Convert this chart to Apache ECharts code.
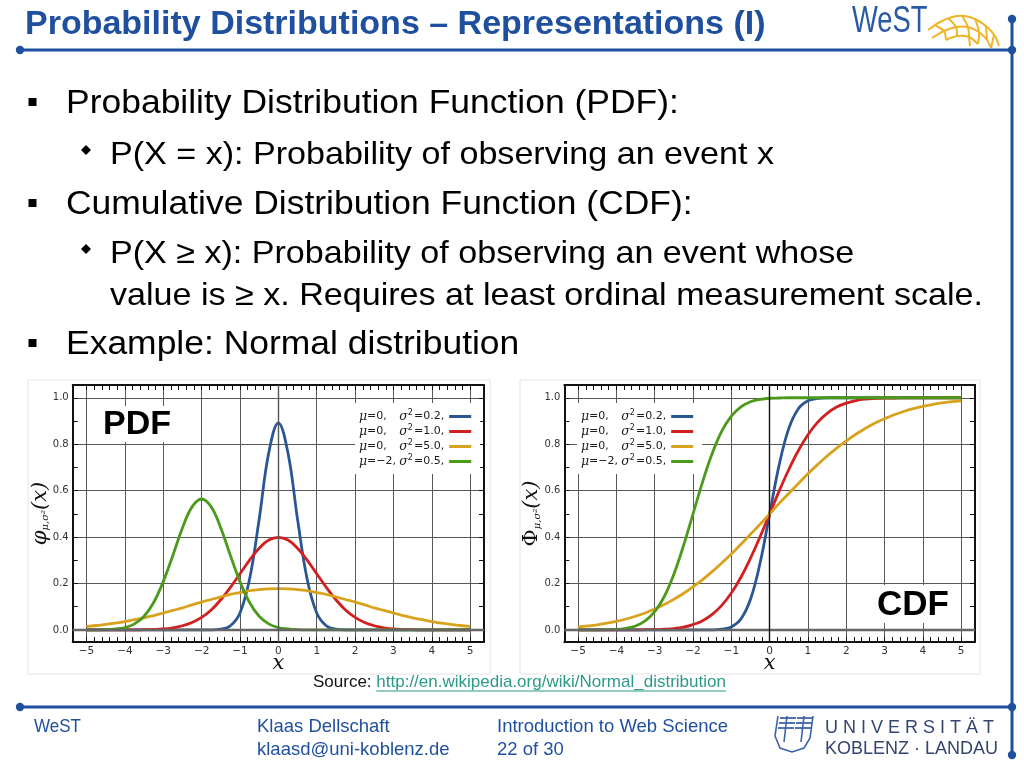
<!DOCTYPE html>
<html><head><meta charset="utf-8">
<script src="https://cdn.jsdelivr.net/npm/echarts@6/dist/echarts.min.js"></script>
<style>html,body{margin:0;padding:0;background:#fff;}#c{width:1024px;height:768px;}</style>
</head><body><div id="c"></div>
<script>
// ---------- data ----------
const xValues = [-5,-4.75,-4.5,-4.25,-4,-3.75,-3.5,-3.25,-3,-2.75,-2.5,-2.25,-2,-1.75,-1.5,-1.25,-1,-0.75,-0.5,-0.25,0,0.25,0.5,0.75,1,1.25,1.5,1.75,2,2.25,2.5,2.75,3,3.25,3.5,3.75,4,4.25,4.5,4.75,5];
const seriesNames = ['μ=0, σ²=0.2','μ=0, σ²=1.0','μ=0, σ²=5.0','μ=−2, σ²=0.5'];
const legendMu = ['0','0','0','−2'];
const legendVar = ['0.2','1.0','5.0','0.5'];
const seriesColors = ['#2a5694','#d21f1f','#d9a21c','#4c9a1b'];

const pdfVar02 = [0,0,0,0,0,0,0,0,0,0,0,0,0,0,0.003,0.018,0.073,0.219,0.477,0.763,0.892,0.763,0.477,0.219,0.073,0.018,0.003,0,0,0,0,0,0,0,0,0,0,0,0,0,0];
const pdfVar1 = [0,0,0,0,0,0,0.001,0.002,0.004,0.009,0.018,0.032,0.054,0.086,0.130,0.183,0.242,0.301,0.352,0.387,0.399,0.387,0.352,0.301,0.242,0.183,0.130,0.086,0.054,0.032,0.018,0.009,0.004,0.002,0.001,0,0,0,0,0,0];
const pdfVar5 = [0.015,0.019,0.024,0.029,0.036,0.044,0.052,0.062,0.073,0.084,0.095,0.108,0.120,0.131,0.142,0.153,0.161,0.169,0.174,0.177,0.178,0.177,0.174,0.169,0.161,0.153,0.142,0.131,0.120,0.108,0.095,0.084,0.073,0.062,0.052,0.044,0.036,0.029,0.024,0.019,0.015];
const pdfMuM2 = [0,0,0.001,0.004,0.010,0.026,0.059,0.118,0.208,0.321,0.439,0.530,0.564,0.530,0.439,0.321,0.208,0.118,0.059,0.026,0.010,0.004,0.001,0,0,0,0,0,0,0,0,0,0,0,0,0,0,0,0,0,0];

const cdfVar02 = [0,0,0,0,0,0,0,0,0,0,0,0,0,0,0,0.003,0.013,0.047,0.132,0.288,0.5,0.712,0.868,0.953,0.987,0.997,1,1,1,1,1,1,1,1,1,1,1,1,1,1,1];
const cdfVar1 = [0,0,0,0,0,0,0,0.001,0.001,0.003,0.006,0.012,0.023,0.040,0.067,0.106,0.159,0.227,0.309,0.401,0.5,0.599,0.691,0.773,0.841,0.894,0.933,0.960,0.977,0.988,0.994,0.997,0.999,0.999,1,1,1,1,1,1,1];
const cdfVar5 = [0.013,0.017,0.022,0.029,0.037,0.047,0.059,0.073,0.090,0.109,0.132,0.157,0.186,0.217,0.251,0.288,0.327,0.369,0.412,0.455,0.5,0.545,0.588,0.631,0.673,0.712,0.749,0.783,0.814,0.843,0.868,0.891,0.910,0.927,0.941,0.953,0.963,0.971,0.978,0.983,0.987];
const cdfMuM2 = [0,0,0,0.001,0.002,0.007,0.017,0.039,0.079,0.144,0.240,0.362,0.5,0.638,0.760,0.856,0.921,0.961,0.983,0.993,0.998,0.999,1,1,1,1,1,1,1,1,1,1,1,1,1,1,1,1,1,1,1];

const xTickLabels = [-5,-4,-3,-2,-1,0,1,2,3,4,5];
const yTickLabels = [0,0.2,0.4,0.6,0.8,1.0];
const xMinorTicks = []; for (let k = -25; k <= 25; k++) xMinorTicks.push(k / 5);
const yMinorTicks = []; for (let k = 0; k <= 10; k++) yMinorTicks.push(k / 10);

// ---------- layout ----------
const X_MIN = -5.36, X_MAX = 5.36, Y_MIN = -0.052, Y_MAX = 1.055;
const SANS = '"Liberation Sans", Arial, Helvetica, sans-serif';
const BLUE = '#1f4f9f';
const GRIDC = '#585858';
const pdfRect = {left: 72.7, top: 385, width: 411.3, height: 257};
const cdfRect = {left: 564.3, top: 385, width: 410.7, height: 257};

const chart = echarts.init(document.getElementById('c'), null, {renderer: 'canvas'});
const fmtMinus = v => (v < 0 ? '−' + Math.abs(v) : String(v));

function gridOf(r) { return Object.assign({}, r, {containLabel: false, outerBoundsMode: 'none'}); }

function xAxes(gMain, gOver) {
  const frame = {show: true, onZero: false, lineStyle: {color: '#111', width: 2}};
  return [
    {type: 'value', gridIndex: gMain, position: 'bottom', min: X_MIN, max: X_MAX,
     axisLine: frame, axisTick: {show: false, customValues: xTickLabels},
     axisLabel: {customValues: xTickLabels, formatter: fmtMinus, fontSize: 10.5, color: '#333', fontFamily: 'DejaVu Sans', margin: 4},
     splitLine: {show: true, lineStyle: {color: GRIDC, width: 1}},
     name: 'x', nameLocation: 'middle', nameGap: 11, nameMoveOverlap: false,
     nameTextStyle: {fontFamily: 'DejaVu Serif', fontStyle: 'italic', fontSize: 21, color: '#111'}},
    {type: 'value', gridIndex: gMain, position: 'top', min: X_MIN, max: X_MAX,
     axisLine: frame, axisTick: {show: true, inside: true, length: 5, customValues: xMinorTicks, lineStyle: {color: '#111', width: 1}},
     axisLabel: {show: false}, splitLine: {show: false}},
    {type: 'value', gridIndex: gOver, position: 'bottom', min: X_MIN, max: X_MAX,
     axisLine: {show: false, onZero: false}, axisTick: {show: true, inside: true, length: 5, customValues: xMinorTicks, lineStyle: {color: '#111', width: 1}},
     axisLabel: {show: false}, splitLine: {show: false}}
  ];
}
function yAxes(gMain, gOver, nameText) {
  const frame = {show: true, onZero: false, lineStyle: {color: '#111', width: 2}};
  return [
    {type: 'value', gridIndex: gMain, position: 'left', min: Y_MIN, max: Y_MAX,
     axisLine: frame, axisTick: {show: false, customValues: yTickLabels},
     axisLabel: {customValues: yTickLabels, formatter: v => v.toFixed(1), fontSize: 10, color: '#333', fontFamily: 'DejaVu Sans', margin: 4},
     splitLine: {show: true, lineStyle: {color: GRIDC, width: 1}},
     name: nameText, nameLocation: 'middle', nameRotate: 90, nameGap: 22, nameMoveOverlap: false,
     nameTextStyle: {color: '#111', rich: {
       g: {fontFamily: 'DejaVu Serif', fontStyle: 'italic', fontSize: 21, color: '#111'},
       G: {fontFamily: 'DejaVu Serif', fontSize: 21, color: '#111'},
       s: {fontFamily: 'DejaVu Serif', fontStyle: 'italic', fontSize: 10, color: '#111', verticalAlign: 'bottom', padding: [8, 0, 0, 0]}
     }}},
    {type: 'value', gridIndex: gMain, position: 'right', min: Y_MIN, max: Y_MAX,
     axisLine: frame, axisTick: {show: true, inside: true, length: 5, customValues: yMinorTicks, lineStyle: {color: '#111', width: 1}},
     axisLabel: {show: false}, splitLine: {show: false}},
    {type: 'value', gridIndex: gOver, position: 'left', min: Y_MIN, max: Y_MAX,
     axisLine: {show: false, onZero: false}, axisTick: {show: true, inside: true, length: 5, customValues: yMinorTicks, lineStyle: {color: '#111', width: 1}},
     axisLabel: {show: false}, splitLine: {show: false}}
  ];
}

function curve(arr, i, axisIdx) {
  return {type: 'line', name: seriesNames[i], xAxisIndex: axisIdx, yAxisIndex: axisIdx,
    data: xValues.map((x, k) => [x, arr[k]]), smooth: 0.4, symbol: 'none', showSymbol: false,
    lineStyle: {color: seriesColors[i], width: 2.8}, itemStyle: {color: seriesColors[i]},
    silent: true, z: 3};
}
function zeroLines(axisIdx, vColor, vWidth) {
  return {type: 'line', name: '_zero' + axisIdx, xAxisIndex: axisIdx, yAxisIndex: axisIdx,
    data: [[0, 0]], symbol: 'none', lineStyle: {opacity: 0}, silent: true, z: 2,
    markLine: {silent: true, symbol: ['none', 'none'], label: {show: false}, animation: false,
      data: [{yAxis: 0, lineStyle: {color: '#666', width: 2.4, type: 'solid'}},
             {xAxis: 0, lineStyle: {color: vColor, width: vWidth, type: 'solid'}}]}};
}

function legendAt(left) {
  return {left: left, top: 403, orient: 'vertical', align: 'right', data: seriesNames,
    icon: 'rect', itemWidth: 22, itemHeight: 3, itemGap: 1, selectedMode: false,
    backgroundColor: '#fff', padding: [6, 9, 6, 4],
    formatter: name => {
      const i = seriesNames.indexOf(name);
      return '{g|μ}{t|=}{n|' + legendMu[i] + ',}{g|σ}{p|2}{t|=' + legendVar[i] + ',}';
    },
    textStyle: {color: '#1a1a1a', align: 'left', rich: {
      g: {fontFamily: 'DejaVu Serif', fontStyle: 'italic', fontSize: 12.5, color: '#1a1a1a', lineHeight: 15, align: 'left'},
      t: {fontFamily: 'DejaVu Sans', fontSize: 11, color: '#1a1a1a', lineHeight: 15, align: 'left'},
      n: {fontFamily: 'DejaVu Sans', fontSize: 11, color: '#1a1a1a', width: 23, lineHeight: 15, align: 'left'},
      p: {fontFamily: 'DejaVu Sans', fontSize: 8, color: '#1a1a1a', verticalAlign: 'top', lineHeight: 15, padding: [0, 1, 6, 0], align: 'left'}
    }}};
}

// ---------- slide decorations ----------
const mctx = document.createElement('canvas').getContext('2d');
function textW(str, px, weight) { mctx.font = (weight || 'normal') + ' ' + px + 'px ' + SANS; return mctx.measureText(str).width; }
function T(text, x, y, size, fill, opts) {
  opts = opts || {};
  return {type: 'text', x: x, y: y, z: 20, silent: true, scaleX: opts.scaleX || 1,
    style: {text: text, fill: fill, fontSize: size, fontFamily: opts.family || SANS,
      fontWeight: opts.weight || 'normal', fontStyle: opts.style || 'normal',
      textAlign: opts.align || 'left', textVerticalAlign: 'middle', align: opts.align || 'left', verticalAlign: 'middle'}};
}
const L = (x1, y1, x2, y2, c, w) => ({type: 'line', z: 20, silent: true, shape: {x1, y1, x2, y2}, style: {stroke: c, lineWidth: w}});
const C = (cx, cy, r, c) => ({type: 'circle', z: 20, silent: true, shape: {cx, cy, r}, style: {fill: c}});

const g = [];
// frame lines
g.push(L(20, 50, 1012, 50, BLUE, 3), L(1012, 19, 1012, 755, BLUE, 3), L(20, 707, 1012, 707, BLUE, 3));
[[20, 50], [1012, 19], [1012, 50], [20, 707], [1012, 707], [1012, 755]].forEach(p => g.push(C(p[0], p[1], 4.2, BLUE)));
// title
g.push(T('Probability Distributions – Representations (I)', 25, 25, 34, BLUE, {weight: 'bold'}));
// WeST logo
g.push(T('WeST', 852, 22, 36, '#2a5aa6', {scaleX: 0.76}));
const Y = '#f0b526';
const net = [
  [[928,30],[940,22],[952,17],[965,16],[977,20],[987,27],[995,36],[999,46]],
  [[932,38],[944,31],[956,27],[968,27],[979,32],[987,40],[991,48]],
  [[946,40],[957,36],[969,37],[978,44]],
  [[936,26],[944,31],[946,40]],[[948,18],[956,27],[957,36]],[[962,16],[968,27],[969,37],[970,46]],
  [[975,19],[979,32],[978,44]],[[986,26],[987,40]],[[994,35],[991,48]]
];
net.forEach(pts => g.push({type: 'polyline', z: 19, silent: true, shape: {points: pts, smooth: 0.3}, style: {fill: 'none', stroke: Y, lineWidth: 2}}));
// bullets
const sq = (cy) => ({type: 'rect', z: 20, silent: true, shape: {x: 28.5, y: cy - 4, width: 8, height: 8}, style: {fill: '#000'}});
const dm = (cy) => ({type: 'polygon', z: 20, silent: true, shape: {points: [[86, cy - 5], [91, cy], [86, cy + 5], [81, cy]]}, style: {fill: '#000'}});
g.push(sq(102), dm(150), sq(203), dm(249), sq(343));
const s1 = {scaleX: 1.043}, s2 = {scaleX: 1.065};
g.push(T('Probability Distribution Function (PDF):', 66, 104, 34, '#000', s1));
g.push(T('P(X = x): Probability of observing an event x', 110, 155, 32, '#000', s2));
g.push(T('Cumulative Distribution Function (CDF):', 66, 205, 34, '#000', s1));
g.push(T('P(X ≥ x): Probability of observing an event whose', 110, 254, 32, '#000', s2));
g.push(T('value is ≥ x. Requires at least ordinal measurement scale.', 110, 296, 32, '#000', s2));
g.push(T('Example: Normal distribution', 66, 345, 34, '#000', s1));
// image frames
g.push({type: 'rect', z: 1, silent: true, shape: {x: 28, y: 380, width: 462, height: 294}, style: {fill: 'none', stroke: '#e4e4e4', lineWidth: 1}});
g.push({type: 'rect', z: 1, silent: true, shape: {x: 520, y: 380, width: 460, height: 294}, style: {fill: 'none', stroke: '#e4e4e4', lineWidth: 1}});
// PDF / CDF labels
g.push({type: 'rect', z: 15, silent: true, shape: {x: 99, y: 406, width: 76, height: 36}, style: {fill: '#fff'}});
g.push(T('PDF', 103, 425, 34, '#000', {weight: 'bold'}));
g.push({type: 'rect', z: 15, silent: true, shape: {x: 873, y: 585, width: 79, height: 38}, style: {fill: '#fff'}});
g.push(T('CDF', 877, 605, 35, '#000', {weight: 'bold'}));
// source
const srcX = 313, srcY = 682, srcSize = 17;
const srcLabel = 'Source: ', srcLink = 'http://en.wikipedia.org/wiki/Normal_distribution';
const lx = srcX + textW(srcLabel, srcSize);
g.push(T(srcLabel, srcX, srcY, srcSize, '#111'));
g.push(T(srcLink, lx, srcY, srcSize, '#2b9a8a'));
g.push(L(lx, srcY + 9, lx + textW(srcLink, srcSize), srcY + 9, '#2b9a8a', 1));
// footer
const FS = 18.5;
g.push(T('WeST', 34, 727, FS, BLUE, {scaleX: 0.92}));
g.push(T('Klaas Dellschaft', 257, 727, FS, BLUE));
g.push(T('klaasd@uni-koblenz.de', 257, 750, FS, BLUE));
g.push(T('Introduction to Web Science', 497, 727, FS, BLUE));
g.push(T('22 of 30', 497, 750, FS, BLUE));
// university logo
const UC = '#34466e';
g.push(T('U N I V E R S I T Ä T', 825, 728, 18, UC));
g.push(T('KOBLENZ · LANDAU', 825, 749, 18, UC));
const EB = '#3b63aa';
g.push({type: 'polyline', z: 20, silent: true, shape: {points: [[778, 716], [775, 736], [780, 748], [792, 752], [804, 748], [810, 738], [813, 716]]}, style: {stroke: EB, lineWidth: 1.6, fill: 'none'}});
[[780, 718, 796, 718], [779, 723, 795, 723], [778, 728, 794, 728], [797, 718, 813, 718], [796, 723, 812, 723], [795, 728, 811, 728]].forEach(s => g.push(L(s[0], s[1], s[2], s[3], EB, 1.8)));
g.push(L(787, 716, 784, 742, EB, 1.6), L(804, 716, 801, 742, EB, 1.6));

const option = {
  animation: false,
  backgroundColor: '#fff',
  grid: [gridOf(pdfRect), gridOf(pdfRect), gridOf(cdfRect), gridOf(cdfRect)],
  xAxis: [].concat(xAxes(0, 1), xAxes(2, 3)),
  yAxis: [].concat(yAxes(0, 1, '{g|φ}{s|μ,σ²}{g|(x)}'), yAxes(2, 3, '{G|Φ}{s|μ,σ²}{g|(x)}')),
  legend: [legendAt(355), legendAt(577)],
  series: [
    zeroLines(0, '#555', 1.4),
    curve(pdfVar02, 0, 0), curve(pdfVar1, 1, 0), curve(pdfVar5, 2, 0), curve(pdfMuM2, 3, 0),
    zeroLines(3, '#111', 1.4),
    curve(cdfVar02, 0, 3), curve(cdfVar1, 1, 3), curve(cdfVar5, 2, 3), curve(cdfMuM2, 3, 3)
  ],
  graphic: g
};
chart.setOption(option);
</script></body></html>
